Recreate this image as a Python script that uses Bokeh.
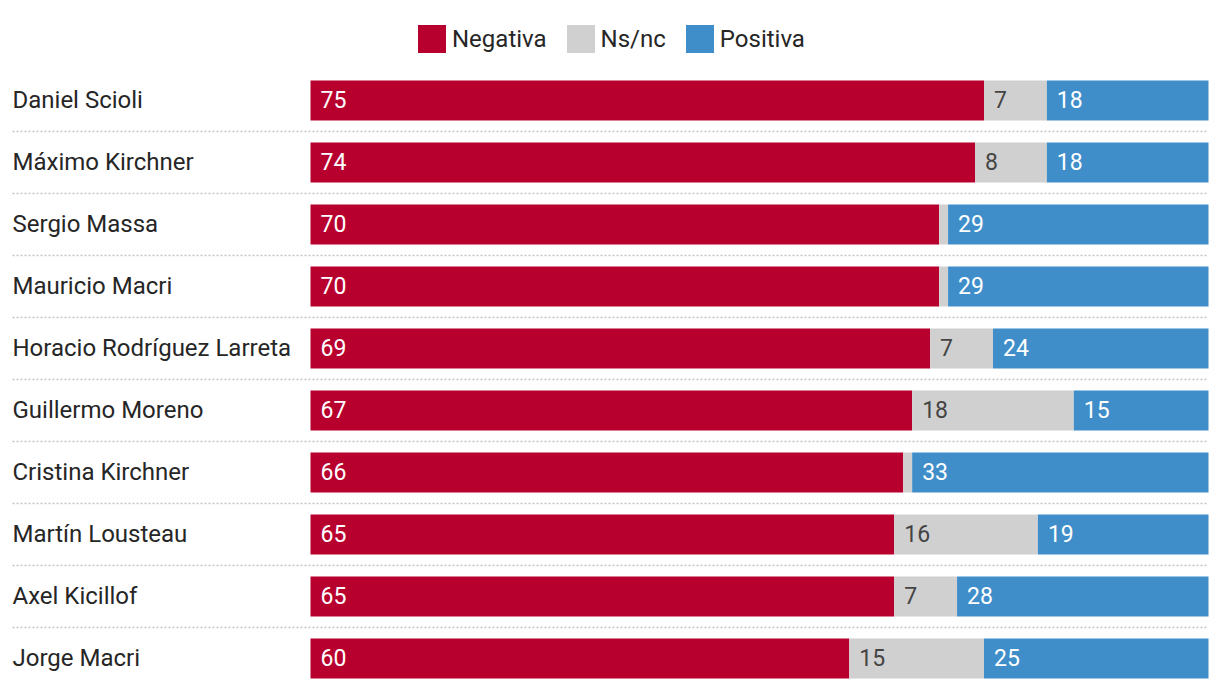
from bokeh.plotting import figure
from bokeh.models import Range1d, ColumnDataSource, Legend, LegendItem
from bokeh.core.properties import value
from bokeh.embed import file_html
from bokeh.resources import INLINE

names = ["Daniel Scioli", "Máximo Kirchner", "Sergio Massa", "Mauricio Macri",
         "Horacio Rodríguez Larreta", "Guillermo Moreno", "Cristina Kirchner",
         "Martín Lousteau", "Axel Kicillof", "Jorge Macri"]
negativa = [75, 74, 70, 70, 69, 67, 66, 65, 65, 60]
nsnc = [7, 8, 1, 1, 7, 18, 1, 16, 7, 15]
positiva = [18, 18, 29, 29, 24, 15, 33, 19, 28, 25]
series_labels = ["Negativa", "Ns/nc", "Positiva"]
colors = ["#B8002F", "#D0D0D0", "#3F8ECA"]
text_colors = ["#FFFFFF", "#444444", "#FFFFFF"]

FONT = "Roboto"
W, H = 1212, 690
px_per = 8.98            # pixels per percentage point
row_px = 62              # pixels per row
x0 = -310 / px_per
y_top = -100 / row_px

p = figure(width=W, height=H, output_backend="svg", toolbar_location=None,
           x_range=Range1d(x0, x0 + W / px_per),
           y_range=Range1d(y_top + H / row_px, y_top),
           min_border=0, outline_line_color=None)
p.axis.visible = False
p.grid.visible = False
p.background_fill_color = "white"
p.border_fill_color = "white"

rows = list(range(len(names)))

# dotted separators between rows
sep_y = [i + 0.5 for i in rows[:-1]]
p.segment(x0=[x0 + 12 / px_per] * len(sep_y), x1=[100] * len(sep_y), y0=sep_y, y1=sep_y,
          line_color="#C4C4C4", line_width=1.6, line_dash="2 2")

series = [negativa, nsnc, positiva]
left = [0] * len(names)
legend_items = []
for vals, lab, col, tcol in zip(series, series_labels, colors, text_colors):
    right = [l + v for l, v in zip(left, vals)]
    src = ColumnDataSource(dict(y=rows, left=left, right=right,
                                txt=[str(v) if v >= 5 else "" for v in vals]))
    r = p.hbar(y="y", left="left", right="right", height=40 / row_px, source=src,
               fill_color=col, line_color=None)
    p.text(x="left", y="y", text="txt", source=src, x_offset=10, y_offset=-1,
           text_align="left", text_baseline="middle", text_color=tcol,
           text_font=value(FONT), text_font_size="23px", text_font_style="normal")
    legend_items.append(LegendItem(label=lab, renderers=[r]))
    left = right

# row labels
p.text(x=[x0] * len(names), y=rows, text=names, x_offset=12, y_offset=-1,
       text_align="left", text_baseline="middle", text_color="#262626",
       text_font=value(FONT), text_font_size="24px")

legend = Legend(items=legend_items, orientation="horizontal", location=(414, H - 56),
                glyph_width=35, glyph_height=35, label_standoff=3, spacing=16,
                padding=0, margin=0, border_line_alpha=0, background_fill_alpha=0,
                label_text_font=FONT, label_text_font_size="24px",
                label_text_color="#262626", label_height=35)
p.add_layout(legend, "center")

open("out.html", "w").write(file_html(p, INLINE))
